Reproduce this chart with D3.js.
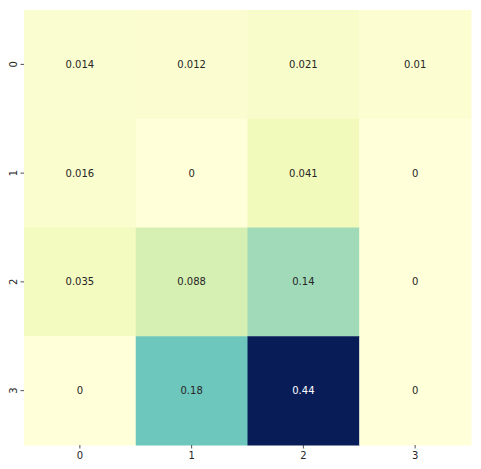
<!DOCTYPE html>
<html><head><meta charset="utf-8">
<script src="https://cdn.jsdelivr.net/npm/d3@7"></script>
<style>body{margin:0;background:#fff}</style>
</head><body>
<script>
const rowLabels = ["0","1","2","3"];
const colLabels = ["0","1","2","3"];
const values = [
  [0.014, 0.012, 0.021, 0.01],
  [0.016, 0, 0.041, 0],
  [0.035, 0.088, 0.14, 0],
  [0, 0.18, 0.44, 0]
];
const labels = [
  ["0.014","0.012","0.021","0.01"],
  ["0.016","0","0.041","0"],
  ["0.035","0.088","0.14","0"],
  ["0","0.18","0.44","0"]
];
const ylgnbu = ["#ffffd9","#edf8b1","#c7e9b4","#7fcdbb","#41b6c4","#1d91c0","#225ea8","#253494","#081d58"];

const W = 481, H = 469;
const m = {left: 24, top: 10, right: 10, bottom: 24};
const svg = d3.select("body").append("svg").attr("width", W).attr("height", H);

const x = d3.scaleBand().domain(colLabels).range([m.left, W - m.right]);
const y = d3.scaleBand().domain(rowLabels).range([m.top, H - m.bottom]);
const vmax = d3.max(values.flat());
const color = d3.scaleLinear()
  .domain(ylgnbu.map((_, i) => i / (ylgnbu.length - 1) * vmax))
  .range(ylgnbu).interpolate(d3.interpolateRgb).clamp(true);

const cells = [];
values.forEach((row, i) => row.forEach((v, j) => cells.push({r: rowLabels[i], c: colLabels[j], v, t: labels[i][j]})));

svg.append("g").selectAll("rect").data(cells).join("rect")
  .attr("x", d => x(d.c)).attr("y", d => y(d.r))
  .attr("width", x.bandwidth() + 0.5).attr("height", y.bandwidth() + 0.5)
  .attr("fill", d => color(d.v));

function lum(c) {
  const rgb = d3.rgb(c);
  const f = v => { v /= 255; return v <= 0.03928 ? v / 12.92 : Math.pow((v + 0.055) / 1.055, 2.4); };
  return 0.2126 * f(rgb.r) + 0.7152 * f(rgb.g) + 0.0722 * f(rgb.b);
}

svg.append("g").selectAll("text").data(cells).join("text")
  .attr("x", d => x(d.c) + x.bandwidth() / 2)
  .attr("y", d => y(d.r) + y.bandwidth() / 2)
  .attr("text-anchor", "middle").attr("dominant-baseline", "central")
  .attr("font-family", "DejaVu Sans").attr("font-size", 10)
  .attr("fill", d => lum(color(d.v)) > 0.408 ? "#262626" : "#ffffff")
  .text(d => d.t);

const xAxis = svg.append("g").attr("transform", `translate(0,${H - m.bottom})`)
  .call(d3.axisBottom(x).tickSize(3.5).tickPadding(3));
const yAxis = svg.append("g").attr("transform", `translate(${m.left},0)`)
  .call(d3.axisLeft(y).tickSize(3.5).tickPadding(3));
[xAxis, yAxis].forEach(a => {
  a.select(".domain").remove();
  a.selectAll("line").attr("stroke", "#262626").attr("stroke-width", 0.8);
  a.selectAll("text").attr("font-family", "DejaVu Sans").attr("font-size", 10).attr("fill", "#262626");
});
yAxis.selectAll("text")
  .attr("transform", function() { const t = d3.select(this); return `rotate(-90, ${t.attr("x")}, 0)`; })
  .attr("text-anchor", "middle").attr("dy", "0");
yAxis.selectAll(".tick text").each(function() {
  const t = d3.select(this);
  t.attr("x", -10).attr("y", 0).attr("dy", "0").attr("dominant-baseline", "auto")
   .attr("transform", "rotate(-90) translate(0,-0.5)")
   .attr("x", 0).attr("y", -6.5);
});
</script>
</body></html>
